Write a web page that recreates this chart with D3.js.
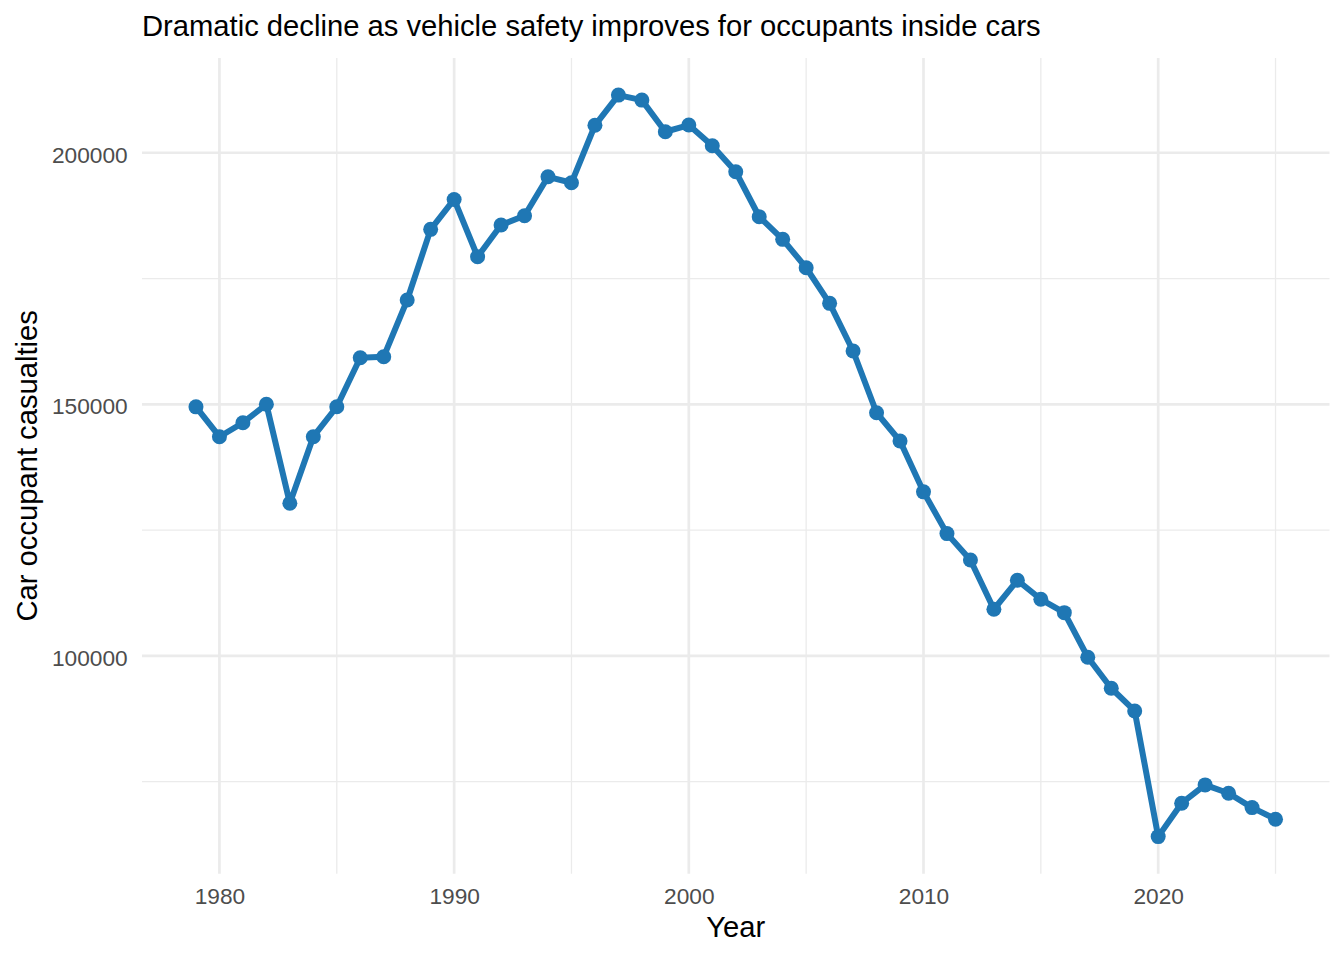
<!DOCTYPE html>
<html>
<head>
<meta charset="utf-8">
<script src="https://cdn.jsdelivr.net/npm/d3@7"></script>
<style>
  html, body { margin: 0; padding: 0; background: #fff; }
  svg { display: block; font-family: "Liberation Sans", Arial, Helvetica, sans-serif; }
</style>
</head>
<body>
<div id="chart"></div>
<script>
const years = [
    1979, 1980, 1981, 1982, 1983, 1984, 1985, 1986, 1987, 1988,
    1989, 1990, 1991, 1992, 1993, 1994, 1995, 1996, 1997, 1998,
    1999, 2000, 2001, 2002, 2003, 2004, 2005, 2006, 2007, 2008,
    2009, 2010, 2011, 2012, 2013, 2014, 2015, 2016, 2017, 2018,
    2019, 2020, 2021, 2022, 2023, 2024, 2025
];
const casualties = [
    149500, 143560, 146340, 150000, 130330, 143560, 149520, 159260, 159460, 170720,
    184770, 190720, 179330, 185630, 187480, 195220, 194030, 205450, 211460, 210460,
    204170, 205500, 201380, 196220, 187280, 182790, 177140, 170070, 160590, 148330,
    142710, 132600, 124300, 119060, 109270, 115030, 111250, 108590, 99730, 93570,
    89060, 64080, 70720, 74360, 72700, 69850, 67540
];
const xTicks = [1980, 1990, 2000, 2010, 2020];
const xMinor = [1985, 1995, 2005, 2015, 2025];
const yTicks = [100000, 150000, 200000];
const yMinor = [75000, 125000, 175000];

const titleText = "Dramatic decline as vehicle safety improves for occupants inside cars";
const xLabel = "Year";
const yLabel = "Car occupant casualties";

const config = {
    width: 1344,
    height: 960,
    panel: { left: 142, right: 1329.5, top: 58, bottom: 873.7 },
    lineColor: "#1f77b4",
    gridColor: "#ebebeb",
    tickColor: "#4d4d4d",
    tickFont: 22.7,
    titleFont: 29.2
};

const data = years.map((year, i) => ({ year, value: casualties[i] }));

// ggplot-style 5% expansion on both continuous scales
function expand(ext) {
    const pad = (ext[1] - ext[0]) * 0.05;
    return [ext[0] - pad, ext[1] + pad];
}

const x = d3.scaleLinear()
    .domain(expand(d3.extent(years)))
    .range([config.panel.left, config.panel.right]);

const y = d3.scaleLinear()
    .domain(expand(d3.extent(casualties)))
    .range([config.panel.bottom, config.panel.top]);

const svg = d3.select("#chart").append("svg")
    .attr("width", config.width)
    .attr("height", config.height)
    .attr("viewBox", [0, 0, config.width, config.height]);

// grid
const grid = svg.append("g").attr("class", "grid").attr("stroke", config.gridColor);

grid.selectAll(".y-minor").data(yMinor).join("line")
    .attr("x1", config.panel.left).attr("x2", config.panel.right)
    .attr("y1", d => y(d)).attr("y2", d => y(d))
    .attr("stroke-width", 1.3);

grid.selectAll(".x-minor").data(xMinor).join("line")
    .attr("y1", config.panel.top).attr("y2", config.panel.bottom)
    .attr("x1", d => x(d)).attr("x2", d => x(d))
    .attr("stroke-width", 1.3);

grid.selectAll(".y-major").data(yTicks).join("line")
    .attr("x1", config.panel.left).attr("x2", config.panel.right)
    .attr("y1", d => y(d)).attr("y2", d => y(d))
    .attr("stroke-width", 2.7);

grid.selectAll(".x-major").data(xTicks).join("line")
    .attr("y1", config.panel.top).attr("y2", config.panel.bottom)
    .attr("x1", d => x(d)).attr("x2", d => x(d))
    .attr("stroke-width", 2.7);

// axes (labels only, ggplot minimal style)
const xAxis = g => g
    .attr("transform", `translate(0,${config.panel.bottom})`)
    .call(d3.axisBottom(x).tickValues(xTicks).tickFormat(d3.format("d")).tickSize(0).tickPadding(14.2))
    .call(g => g.select(".domain").remove())
    .call(g => g.selectAll("text")
        .attr("fill", config.tickColor)
        .style("font-size", config.tickFont + "px")
        .style("font-family", "inherit"));

const yAxis = g => g
    .attr("transform", `translate(${config.panel.left},0)`)
    .call(d3.axisLeft(y).tickValues(yTicks).tickFormat(d3.format("d")).tickSize(0).tickPadding(14.3))
    .call(g => g.select(".domain").remove())
    .call(g => g.selectAll("text")
        .attr("dy", "0.42em")
        .attr("fill", config.tickColor)
        .style("font-size", config.tickFont + "px")
        .style("font-family", "inherit"));

svg.append("g").call(xAxis);
svg.append("g").call(yAxis);

// line + points
const line = d3.line()
    .x(d => x(d.year))
    .y(d => y(d.value));

svg.append("path")
    .datum(data)
    .attr("fill", "none")
    .attr("stroke", config.lineColor)
    .attr("stroke-width", 6)
    .attr("stroke-linejoin", "round")
    .attr("d", line);

svg.append("g")
    .selectAll("circle")
    .data(data)
    .join("circle")
    .attr("cx", d => x(d.year))
    .attr("cy", d => y(d.value))
    .attr("r", 7.5)
    .attr("fill", config.lineColor);

// titles
svg.append("text")
    .attr("x", config.panel.left)
    .attr("y", 36)
    .attr("fill", "#000")
    .style("font-size", config.titleFont + "px")
    .text(titleText);

svg.append("text")
    .attr("x", (config.panel.left + config.panel.right) / 2)
    .attr("y", 937.3)
    .attr("text-anchor", "middle")
    .attr("fill", "#000")
    .style("font-size", config.titleFont + "px")
    .text(xLabel);

svg.append("text")
    .attr("transform", `translate(36.5,${(config.panel.top + config.panel.bottom) / 2}) rotate(-90)`)
    .attr("text-anchor", "middle")
    .attr("fill", "#000")
    .style("font-size", config.titleFont + "px")
    .text(yLabel);
</script>
</body>
</html>
